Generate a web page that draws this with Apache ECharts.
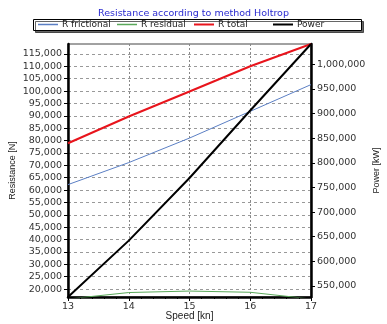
<!DOCTYPE html>
<html>
<head>
<meta charset="utf-8">
<script src="https://cdn.jsdelivr.net/npm/echarts@6/dist/echarts.min.js"></script>
<style>html,body{margin:0;padding:0;background:#fff}#c{width:387px;height:324px}</style>
</head>
<body>
<div id="c"></div>
<script>
const speeds = [13, 14, 15, 16, 17];
const rFrictional = [62200, 71100, 81000, 91800, 102600];
const rResidual = [16000, 18600, 19200, 18700, 16000];
const rTotal = [78900, 89700, 99800, 110000, 119000];
const power = [527600, 642000, 769000, 906000, 1041000];
const resTicks = [20000,25000,30000,35000,40000,45000,50000,55000,60000,65000,70000,75000,80000,85000,90000,95000,100000,105000,110000,115000];
const powTicks = [550000,600000,650000,700000,750000,800000,850000,900000,950000,1000000];
const seriesNames = ['R frictional', 'R residual', 'R total', 'Power'];

const pairs = a => speeds.map((s, i) => [s, a[i]]);
const fmt = v => v.toLocaleString('en-US');
const tickFont = {fontFamily: 'DejaVu Sans', fontSize: 9.5, color: '#333'};

const chart = echarts.init(document.getElementById('c'), null, {renderer: 'canvas'});
const legendX = [38, 117, 194, 273];
chart.setOption({
  animation: false,
  title: {
    text: 'Resistance according to method Holtrop',
    left: 'center', top: 4,
    textStyle: {fontFamily: 'DejaVu Sans', fontSize: 9.5, fontWeight: 'normal', color: '#2a2ad0'}
  },
  graphic: [{
    type: 'rect', z: -1,
    shape: {x: 33.5, y: 19.5, width: 328, height: 11},
    style: {fill: '#fff', stroke: '#000', lineWidth: 1, shadowColor: 'rgba(0,0,0,0.6)', shadowOffsetX: 2, shadowOffsetY: 2}
  }],
  legend: seriesNames.map((n, i) => ({
    data: [n], left: legendX[i], top: 20, padding: 0,
    icon: 'rect', itemWidth: 20, itemHeight: i >= 2 ? 2 : 1.5, itemGap: 4,
    textStyle: {fontFamily: 'DejaVu Sans', fontSize: 9, color: '#222', padding: [0, 0, 0, -1]}
  })),
  grid: {left: 68, right: 76, top: 44, bottom: 27, outerBoundsMode: 'none', containLabel: false, show: true, borderColor: '#444', borderWidth: 1},
  xAxis: {
    type: 'value', min: 13, max: 17, interval: 1,
    name: 'Speed [kn]', nameLocation: 'middle', nameGap: 14, nameMoveOverlap: false,
    nameTextStyle: {fontFamily: 'Liberation Sans', fontSize: 10, color: '#222'},
    axisLine: {lineStyle: {color: '#000', width: 2.5}},
    axisTick: {show: true, length: 4, lineStyle: {color: '#000'}},
    minorTick: {show: true, splitNumber: 5, length: 2, lineStyle: {color: '#000'}},
    axisLabel: Object.assign({margin: 5}, tickFont),
    splitLine: {show: true, lineStyle: {color: '#888', type: [2, 2], width: 1}}
  },
  yAxis: [{
    type: 'value', min: 16800, max: 119000, position: 'left',
    name: 'Resistance [N]', nameLocation: 'middle', nameGap: 51, nameRotate: 90, nameMoveOverlap: false,
    nameTextStyle: {fontFamily: 'Liberation Sans Narrow, Liberation Sans', fontSize: 9, color: '#222'},
    axisLine: {show: true, onZero: false, lineStyle: {color: '#000', width: 2.5}},
    axisTick: {show: true, length: 4, customValues: resTicks, lineStyle: {color: '#000'}},
    axisLabel: Object.assign({margin: 6, customValues: resTicks, formatter: fmt}, tickFont),
    splitLine: {show: true, lineStyle: {color: '#999', type: [3, 3], width: 1}}
  }, {
    type: 'value', min: 527600, max: 1041000, position: 'right',
    name: 'Power [kW]', nameLocation: 'middle', nameGap: 61, nameRotate: 90, nameMoveOverlap: false,
    nameTextStyle: {fontFamily: 'Liberation Sans Narrow, Liberation Sans', fontSize: 9, color: '#222'},
    axisLine: {show: true, onZero: false, lineStyle: {color: '#000', width: 2.5}},
    axisTick: {show: true, length: 4, customValues: powTicks, lineStyle: {color: '#000'}},
    axisLabel: Object.assign({margin: 6, customValues: powTicks, formatter: fmt}, tickFont),
    splitLine: {show: false}
  }],
  series: [
    {name: 'R frictional', type: 'line', data: pairs(rFrictional), symbol: 'none', lineStyle: {color: '#5b7fc4', width: 1}, itemStyle: {color: '#5b7fc4'}, z: 3},
    {name: 'R residual', type: 'line', data: pairs(rResidual), symbol: 'none', lineStyle: {color: '#5aa85a', width: 1}, itemStyle: {color: '#5aa85a'}, z: 3},
    {name: 'R total', type: 'line', data: pairs(rTotal), symbol: 'none', lineStyle: {color: '#e8141c', width: 2}, itemStyle: {color: '#e8141c'}, z: 4},
    {name: 'Power', type: 'line', yAxisIndex: 1, data: pairs(power), symbol: 'none', lineStyle: {color: '#000', width: 2}, itemStyle: {color: '#000'}, z: 5}
  ]
});
</script>
</body>
</html>
